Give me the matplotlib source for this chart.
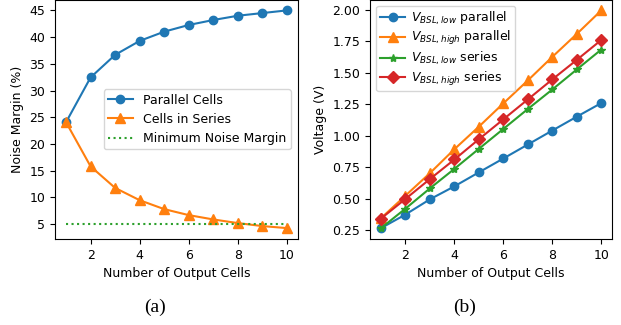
import matplotlib
matplotlib.use("Agg")
import matplotlib.pyplot as plt

cells = [1, 2, 3, 4, 5, 6, 7, 8, 9, 10]
nm_parallel = [24.07, 32.45, 36.68, 39.29, 41.02, 42.27, 43.2, 44.0, 44.5, 45.0]
nm_series = [24.07, 15.8, 11.77, 9.47, 7.8, 6.68, 5.87, 5.19, 4.63, 4.25]
nm_min = [5] * 10

v_low_par = [0.266, 0.374, 0.495, 0.598, 0.709, 0.819, 0.930, 1.041, 1.151, 1.259]
v_high_par = [0.345, 0.524, 0.703, 0.893, 1.072, 1.257, 1.439, 1.626, 1.808, 1.995]
v_low_ser = [0.266, 0.421, 0.582, 0.737, 0.896, 1.054, 1.212, 1.367, 1.526, 1.684]
v_high_ser = [0.342, 0.498, 0.656, 0.811, 0.972, 1.130, 1.288, 1.447, 1.602, 1.760]

plt.rcParams['font.family'] = ['DejaVu Sans']
plt.rcParams['font.size'] = 9

W, H = 621, 325
fig = plt.figure(figsize=(W / 100, H / 100), dpi=100)

def pos(l, r, b, t):
    return [l / W, 1 - b / H, (r - l) / W, (b - t) / H]

ax1 = fig.add_axes(pos(55, 298, 239, -0.5))
ax2 = fig.add_axes(pos(370, 612.3, 239, -0.5))

ax1.plot(cells, nm_parallel, marker='o', color='C0', label='Parallel Cells', ms=6)
ax1.plot(cells, nm_series, marker='^', color='C1', label='Cells in Series', ms=6.5)
ax1.plot(cells, nm_min, linestyle=':', color='C2', label='Minimum Noise Margin')
ax1.set_xlabel('Number of Output Cells')
ax1.set_ylabel('Noise Margin (%)')
ax1.set_xticks([2, 4, 6, 8, 10])
ax1.set_yticks([5, 10, 15, 20, 25, 30, 35, 40, 45])
ax1.legend(loc='center right', bbox_to_anchor=(0.995, 0.50), borderpad=0.35)

ax2.plot(cells, v_low_par, marker='o', color='C0', label=r'$V_{BSL,low}$ parallel', ms=6)
ax2.plot(cells, v_high_par, marker='^', color='C1', label=r'$V_{BSL,high}$ parallel', ms=6.5)
ax2.plot(cells, v_low_ser, marker='*', color='C2', label=r'$V_{BSL,low}$ series', ms=6)
ax2.plot(cells, v_high_ser, marker='D', color='C3', label=r'$V_{BSL,high}$ series', ms=6)
ax2.set_xlabel('Number of Output Cells')
ax2.set_ylabel('Voltage (V)')
ax2.set_xticks([2, 4, 6, 8, 10])
ax2.set_yticks([0.25, 0.5, 0.75, 1.0, 1.25, 1.5, 1.75, 2.0])
ax2.yaxis.set_major_formatter(matplotlib.ticker.FormatStrFormatter('%.2f'))
ax2.legend(loc='upper left', labelspacing=0.2, borderpad=0.3, handletextpad=0.5)

fig.text(155 / W, 1 - 307 / H, '(a)', ha='center', va='center',
         family='Liberation Serif', fontsize=14)
fig.text(465 / W, 1 - 307 / H, '(b)', ha='center', va='center',
         family='Liberation Serif', fontsize=14)

fig.savefig('out.png', dpi=100)
